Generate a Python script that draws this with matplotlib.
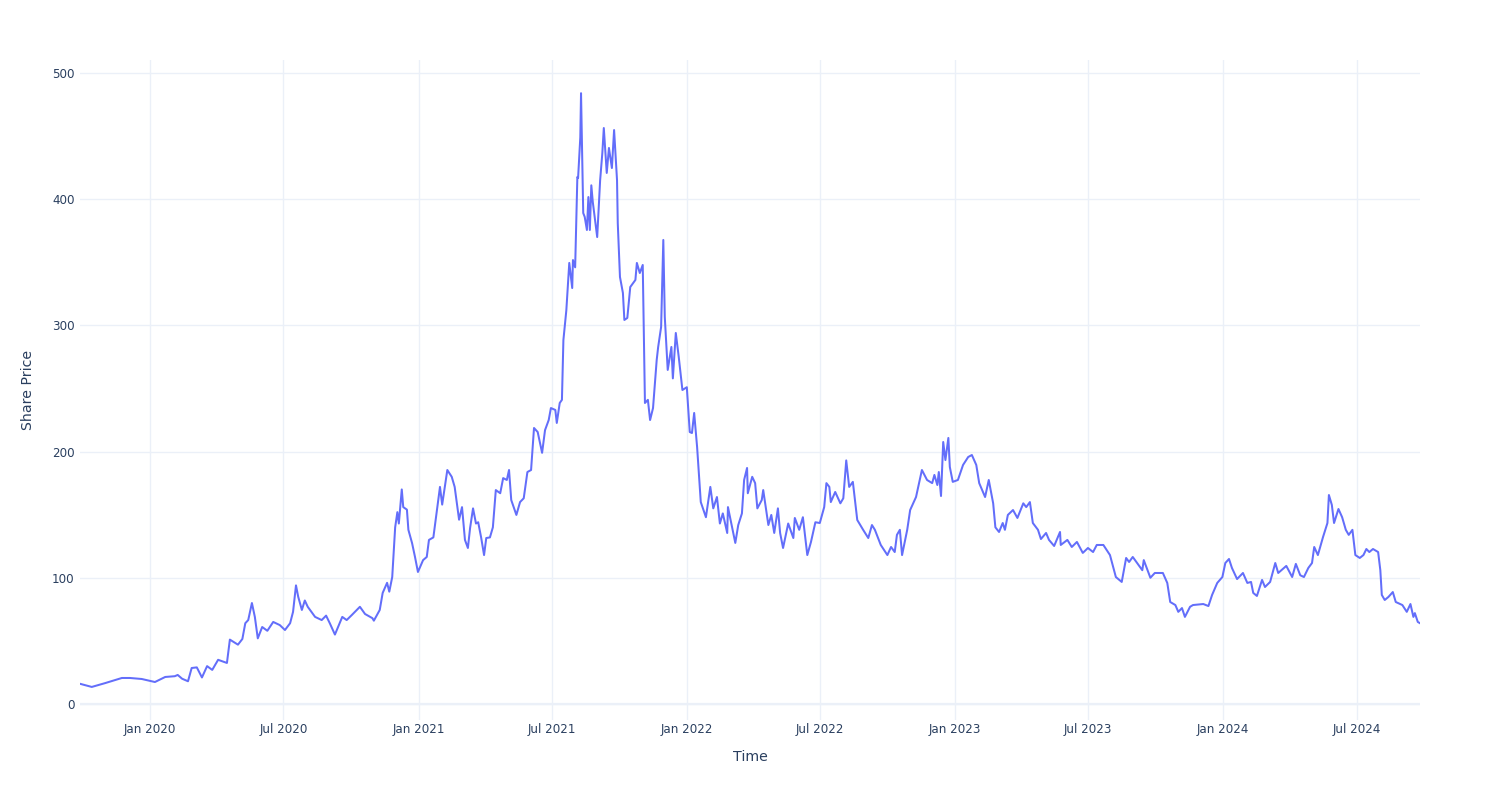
import matplotlib
matplotlib.use("Agg")
import matplotlib.pyplot as plt
import matplotlib.dates as mdates
import pandas as pd

# data (days counted from start_date)
start_date = "2019-09-28"

day_offset = [
    0, 16, 34, 57, 68, 84, 102, 116, 129, 133, 139, 147, 152, 159, 166, 173, 180, 188, 200, 204,
    215, 221, 225, 229, 234,
    238, 242, 248, 255, 263, 272, 279, 286, 290, 294, 297, 302, 306, 310, 320, 329, 335, 340, 347,
    357, 363, 370, 381, 388, 398, 400, 408, 412, 418, 421, 425, 429, 432, 434, 438, 440, 445, 447,
    452, 456, 460, 467, 472, 475,
    481, 490, 493, 500, 506, 510, 516, 520, 524, 528, 531, 535, 539, 542, 546, 550, 553, 558, 562,
    566, 572, 576, 581, 584, 587, 594, 599, 604, 609, 614, 618, 623, 629, 633, 638, 641, 647, 649, 653,
    656, 658, 662, 666, 670, 671, 674, 677, 678, 681, 682, 685, 687, 690, 692, 694, 696, 698, 704,
    708, 711, 713, 717, 720, 724, 727, 731, 732, 735, 739, 741, 745, 749, 756, 758, 762, 766, 769,
    773, 776, 780, 785, 787, 791, 794, 796, 800, 805, 807, 811, 815, 820, 826, 830, 833, 836,
    840, 845, 852, 858, 862, 867, 871, 875, 881, 882, 892, 896, 901, 904, 908, 909, 915, 919, 922,
    928, 930, 937, 941, 945, 950, 953, 957, 964, 971, 973, 979, 984, 990, 995, 1001, 1007, 1013,
    1016, 1020,
    1022, 1028, 1035, 1039, 1043, 1047, 1052, 1058, 1066, 1073, 1078, 1082, 1090, 1099, 1104, 1109,
    1112, 1116, 1119, 1126, 1130, 1138, 1146, 1153, 1160, 1163, 1167, 1169, 1172, 1175, 1178, 1182,
    1184, 1188, 1195, 1202, 1209, 1214, 1220, 1224, 1229, 1232, 1237, 1243, 1246, 1251,
    1256, 1259, 1263, 1270, 1276, 1284, 1288, 1293, 1297, 1304, 1308, 1315, 1319, 1326, 1334, 1335,
    1344, 1350, 1357, 1365, 1372, 1379, 1384, 1393, 1402, 1410, 1418, 1424, 1428, 1433, 1446, 1448,
    1457, 1463, 1474, 1480, 1484, 1491, 1495, 1500, 1504, 1511,
    1515, 1529, 1536, 1541, 1548, 1555, 1559, 1564, 1568, 1575, 1583, 1589, 1594, 1597, 1602, 1609,
    1613, 1620, 1627, 1631, 1642, 1650, 1655, 1661, 1666, 1672, 1677, 1680, 1685, 1692, 1698, 1700,
    1704, 1707, 1713, 1718, 1723, 1727, 1732, 1736, 1742, 1747, 1751, 1755, 1760, 1767, 1770, 1772,
    1776, 1781, 1787, 1791, 1800, 1806, 1811, 1815, 1817, 1821, 1824,
]

share_price = [
    16, 13.5, 16.5, 20.6, 20.6, 19.8, 17.4, 21.4, 22, 23, 20, 18, 28.5, 29, 21, 30, 27, 35, 32.5, 51,
    47, 51.5, 64, 66.5, 80,
    69, 52, 61, 58, 65, 62.5, 58.6, 64, 73, 94, 85, 74.5, 82, 77, 69, 66.5, 70, 64, 55,
    69, 66.5, 70.5, 77, 71.3, 68, 66, 74.5, 88, 96, 89, 100.6, 140, 152, 143, 170, 156, 154, 138,
    127.5, 116.5, 104.6, 114, 116.5, 130,
    132, 172, 158, 185.4, 180, 172, 146, 156, 130, 123.6, 139.5, 155, 143, 144, 132, 118, 131.5, 132, 140,
    169.5, 167, 179, 177.5, 185.4, 161.6, 149.8, 160, 163, 183.8, 185.4, 218.7, 215.5, 199, 217, 225, 234.5, 233, 222.7, 238.5,
    241, 288.4, 312, 349.5, 329.6, 351.8, 346, 417.6, 416.8, 449, 484, 389, 386, 375.6, 401.7, 375.6, 411, 397.8, 370,
    415, 436.6, 456.4, 420.8, 440.6, 424.7, 454.8, 415, 381, 338.4, 325.7, 304.3, 305.9, 330.4, 336, 349.5, 341.5, 347.9, 238.5,
    241, 225, 234.5, 272.6, 282.9, 298.7, 367.7, 306.7, 264.7, 282.9, 258, 294, 275, 248.8, 251, 215.5, 214.7, 230.6,
    203.6, 160, 148, 172, 155, 164, 143, 151, 135.5, 156, 127.6, 141.8, 151, 177.5, 187, 167, 180, 175, 155,
    161.6, 169.5, 141.8, 149.8, 135.5, 155, 135.5, 123.6, 143, 131.5, 147.4, 138, 148, 118, 128.4, 144, 143.4, 156,
    175, 172,
    160, 168, 159, 163, 193, 172, 176, 145.8, 138, 131.5, 141.8, 138, 126, 118, 124.4, 120.4,
    134, 138, 118, 138, 153.7, 164, 185.4, 177.5, 175, 181.5, 173.5, 183.8, 164.8, 207.6, 193.3, 210.8,
    187.8, 176, 177.5, 189.4, 195.7, 197.3, 189.4, 175, 168, 164, 177.5, 159, 140, 136.3,
    143.4, 138, 149.8, 153.7, 147.4, 159, 156, 160, 143.4, 138, 130.7, 135.5, 130, 125.2, 136.3, 126,
    130, 124.4, 128.4, 119.7, 123.6, 120.4, 126, 126, 118, 100.6, 96.7, 115.7, 112.5, 116.5, 106, 114,
    100, 103.8, 103.8, 95.9, 80.8, 78.4, 73, 76, 69, 77,
    78.4, 79.2, 77.6, 86.4, 95.9, 100.6, 111.7, 114.9, 107.8, 99, 103.8, 95.9, 96.7, 88, 85.6, 98.3,
    92.7, 96.7, 111.7, 103.8, 109.4, 100.6, 111, 102, 100.6, 107.8, 111.7, 124.4, 118, 132.3, 143.4, 165.6,
    157.7, 143.4, 154.5, 148, 138, 134, 138, 118, 115.7, 118, 122.8, 120.4, 122.8, 120.4, 106, 86.4,
    82.4, 84.8, 88.7, 80.8, 78.4, 73, 79.2, 69, 72, 65, 64,
]

y_ticks = [0, 100, 200, 300, 400, 500]

dates = pd.to_datetime(start_date) + pd.to_timedelta(day_offset, unit="D")

text_col = "#2a3f5f"
grid_col = "#ebf0f8"

fig = plt.figure(figsize=(15, 8), dpi=100)
ax = fig.add_axes([80 / 1500, 80 / 800, 1340 / 1500, 660 / 800])

ax.plot(dates, share_price, color="#636efa", linewidth=1.45, zorder=3)

ax.set_xlim(dates.min(), dates.max())
ax.set_ylim(-12.7, 510.3)
ax.set_yticks(y_ticks)

ax.xaxis.set_major_locator(mdates.MonthLocator(bymonth=[1, 7]))
ax.xaxis.set_major_formatter(mdates.DateFormatter("%b %Y"))

ax.grid(True, color=grid_col, linewidth=1, zorder=0)
ax.axhline(0, color=grid_col, linewidth=1.6, zorder=1)
for s in ax.spines.values():
    s.set_visible(False)
ax.tick_params(length=0, labelsize=8.6, labelcolor=text_col)
ax.tick_params(axis="x", pad=2)
ax.tick_params(axis="y", pad=4)

ax.set_xlabel("Time", fontsize=10.2, color=text_col, labelpad=10)
ax.set_ylabel("Share Price", fontsize=10.2, color=text_col, labelpad=12)

fig.savefig("out.png", dpi=100, facecolor="white")
